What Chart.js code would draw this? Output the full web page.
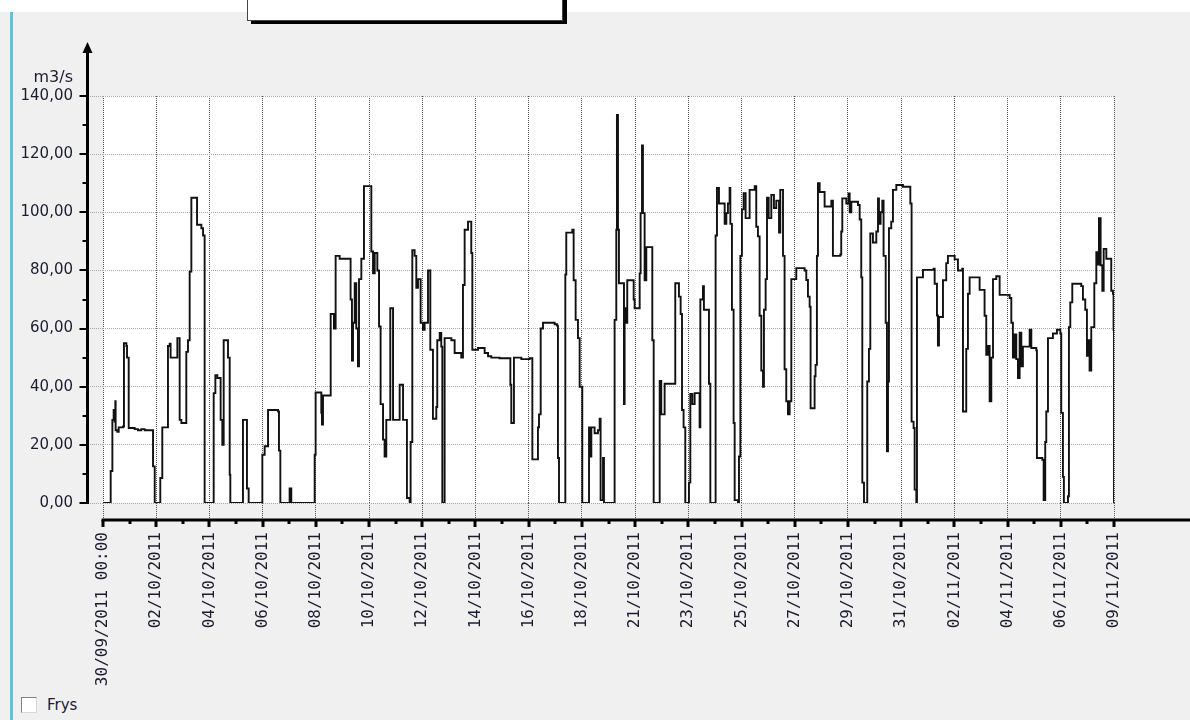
<!DOCTYPE html>
<html>
<head>
<meta charset="utf-8">
<script src="https://cdn.jsdelivr.net/npm/chart.js@4.4.1/dist/chart.umd.min.js"></script>
<style>
    html, body { margin: 0; padding: 0; }
    body { width: 1190px; height: 720px; background: #f0f0f0; position: relative; overflow: hidden; font-family: 'DejaVu Sans', sans-serif; }
    .top-band { position: absolute; left: 0; top: 0; width: 1190px; height: 12px; background: #fff; }
    .top-box { position: absolute; left: 247px; top: -20px; width: 314px; height: 39px; background: #fff; border: 1px solid #444; box-shadow: 4px 3px 0 #000; }
    .side-bar { position: absolute; left: 10px; top: 12px; width: 3px; height: 708px; background: #5cc6d6; }
    .freeze { position: absolute; left: 21px; top: 696px; height: 18px; display: flex; align-items: center; font-size: 15px; color: #1c1c30; }
    .freeze span.box { width: 16px; height: 16px; border: 1px solid #848484; border-right-color: #d8d8d8; border-bottom-color: #d8d8d8; background: #fff; margin-right: 10px; box-sizing: border-box; }
    #flowChart { position: absolute; left: 0; top: 0; }
</style>
</head>
<body>
<div class="top-band"></div>
<div class="top-box"></div>
<div class="side-bar"></div>
<div class="freeze"><span class="box"></span>Frys</div>
<canvas id="flowChart" width="1190" height="720"></canvas>

<script>
// Hours since 30/09/2011 00:00 when the flow changes, and the new flow (m3/s)
const hours = [
    0, 7.3, 8.9, 10.1, 11.1, 11.7, 12.0, 13.6, 14.9, 19.0, 19.9, 22.2, 22.8, 24.4, 30.1, 33.2, 36.4, 39.6, 47.5, 49.1,
    54.4, 56.3, 61.7, 63.3, 64.2, 70.6, 72.8, 74.4, 79.1, 80.7, 82.3, 83.9, 89.3, 93.4, 95.0, 96.5,
    105.1, 106.7, 108.6, 111.7, 113.3, 114.6, 118.7, 120.3, 120.9, 132.9, 136.7, 138.3,
    151.3, 153.5, 156.7, 166.2, 167.1, 168.4, 177.2, 178.8,
    201.0, 201.9, 207.3, 207.9, 208.9, 216.2, 219.3, 220.9, 224.7, 235.1, 236.4, 237.4, 239.0, 240.5, 242.1, 243.1, 245.3, 247.8,
    254.8, 256.4, 258.0, 260.5, 262.1, 263.6, 265.9, 267.4, 269.0, 272.8, 275.4, 281.7, 284.9, 288.6, 291.2,
    292.1, 293.7, 295.9, 297.5, 299.1, 301.6, 303.8, 305.4, 308.6, 310.8, 313.3, 316.5, 317.4, 319.7, 321.2, 322.2,
    324.4, 330.8, 333.9, 340.2, 341.8, 343.4, 346.6, 349.7, 350.7, 356.1, 362.4, 365.6, 368.7, 376.6, 386.8, 387.7,
    390.2, 397.2, 405.1, 407.7, 413.0, 414.0, 415.6, 417.8, 428.9, 431.1, 432.0, 433.0,
    439.0, 439.9, 445.6, 446.9, 448.8, 451.0, 452.6, 455.1, 461.5, 463.0, 463.7, 466.8, 470.0, 471.6, 472.5, 474.8, 475.7,
    485.8, 487.4, 488.0, 489.0, 489.9, 494.7, 495.3, 496.9, 497.8, 503.9, 504.8, 509.6, 510.5, 511.8, 512.7, 514.3, 515.9,
    521.6, 522.9, 528.6, 530.1, 533.3, 543.4, 546.9, 548.5, 549.8, 551.3, 552.9, 556.4, 557.7, 559.6, 561.8,
    566.5, 567.2, 569.7, 570.6, 575.4, 576.7, 581.7, 583.0, 584.9, 590.3, 591.9, 593.4, 595.0, 595.7, 597.2, 598.8, 599.8,
    602.9, 603.9, 605.2, 606.7, 608.3, 610.2, 614.0, 618.8, 620.3, 621.9, 623.5, 625.1, 626.7, 627.6, 629.2,
    630.5, 632.1, 634.6, 637.1, 639.3, 641.9, 643.1, 645.7, 647.2, 648.8, 650.4, 652.0, 653.6, 658.3,
    666.2, 667.8, 669.4, 671.0, 671.9, 675.7, 676.6, 677.9, 678.9, 680.5, 685.2, 691.6, 693.1,
    700.1, 701.0, 702.0, 705.8, 708.0, 709.0, 710.6, 716.9, 718.5, 720.0, 721.0, 722.6, 725.7, 727.3, 728.6,
    731.1, 734.3, 735.9, 736.8, 738.4, 740.0, 741.2, 743.2, 744.4, 745.4, 746.3, 748.5, 750.1, 753.3, 759.6,
    766.6, 767.8, 769.7, 770.7, 772.3, 772.9, 778.6, 788.7, 789.7, 791.9, 792.8, 793.8, 797.6,
    800.7, 802.3, 808.7, 811.8, 815.9, 816.6, 819.7, 821.3, 822.9, 832.4, 837.1, 838.7, 840.3, 841.9, 843.5, 845.1, 848.2,
    851.4, 860.9, 862.5, 864.0, 865.6, 867.2, 868.8, 870.4, 872.0, 873.5, 879.9, 881.5, 886.2, 886.8, 891.9, 893.2, 894.7,
    895.7, 897.3, 902.0, 905.8, 909.0, 909.9, 911.5, 912.4, 916.3, 917.2, 918.5, 920.4, 928.9,
    930.5, 932.7, 934.3, 935.6, 936.8, 938.4, 941.3, 943.2, 944.8, 945.7, 947.3, 948.9, 950.2, 952.7, 957.4, 959.0, 959.6, 960
];
const flow = [
    0, 11, 28.6, 32, 28, 35, 25, 24.5, 26, 26.3, 55, 54, 50, 25.8, 25.4, 25, 25.4, 25, 12.6, 0,
    8.6, 26, 54, 54.8, 50, 56.7, 28.6, 27.5, 52, 56, 79.6, 105, 95.7, 94.5, 92, 0,
    37.8, 44, 43, 28.6, 20, 56, 50, 9.7, 0, 28.6, 5, 0,
    16.6, 19.5, 32, 31.5, 18, 0, 5, 0,
    16.6, 38, 31, 27, 37, 65, 60, 85, 84, 70, 49, 62, 75.6, 60, 47, 77, 84, 109,
    86.5, 79, 86, 80, 60.7, 34, 21.8, 16, 28.6, 67, 28.6, 40.7, 28.6, 1.7, 0,
    21, 87, 85, 74, 77, 62, 59.6, 62, 80, 52.7, 29, 33, 56, 58.5, 53.8, 0,
    56.7, 56, 51.6, 50, 75, 94, 96.8, 86, 52.7, 53.3, 51.6, 50.5, 50, 49.8, 40.7, 27.5,
    50, 49.5, 49.8, 15, 26, 30.5, 60, 62, 61.5, 61, 15.5, 0,
    78.6, 93, 94, 76.6, 63, 56.7, 40, 0, 26, 16, 26, 24, 25, 29, 1, 15.5, 0,
    63, 94, 133.5, 94, 75.6, 34, 67, 62, 76.6, 70, 67, 79, 99.7, 123, 99.7, 76.6, 88,
    56, 0, 42, 30.5, 41, 75.6, 71, 65, 32, 26, 0, 7, 37.5, 34, 37.8,
    26, 70, 74.6, 66.5, 41, 0, 92, 108.4, 103, 96, 99.7, 103, 108.4, 96, 66.5, 27.5, 1,
    0, 16, 85, 101, 106.6, 98, 107.7, 109, 95, 91.7, 64.4, 45.6, 40, 66.5, 77,
    105, 98, 106, 101.5, 104, 93, 107.7, 85, 46, 35, 30.5, 35, 77, 80.8,
    80, 76.7, 71, 67.5, 32.6, 43.6, 47.5, 85, 110, 107, 102, 104, 85,
    85.5, 93.4, 104.8, 103, 106.5, 100, 103.6, 102.5, 97.5, 77.6, 7, 0, 41.8, 53, 92.7,
    89.6, 93.4, 104.8, 96, 100, 104, 85, 62, 17.8, 41.8, 94.5, 96.8, 107.7, 109.4, 108.8,
    103, 28, 25.8, 4.6, 0, 77.6, 80.2, 80.6, 75.4, 64.5, 54.2, 64, 76.6,
    82.5, 85, 83.8, 80, 80.6, 31.5, 53, 72, 77.6, 73.3, 64.4, 51, 54, 35, 50, 77, 78,
    71.6, 70.5, 62, 50, 58, 49.5, 43, 58.6, 47, 53.8, 59.6, 53.3, 52.5, 15.5, 14.9, 1, 21,
    31.5, 56.7, 58.3, 59.6, 58.3, 31, 9, 0, 2.3, 60.5, 69, 75.4, 74.6,
    70, 66.5, 50.6, 56, 45.6, 60.5, 75.6, 86.3, 82, 98, 81.8, 73, 87.4, 84, 73, 72, 59.6, 0
];

// X axis labels, evenly spaced over the 40 days shown
const tickLabels = [
    '30/09/2011 00:00', '02/10/2011', '04/10/2011', '06/10/2011', '08/10/2011',
    '10/10/2011', '12/10/2011', '14/10/2011', '16/10/2011', '18/10/2011',
    '21/10/2011', '23/10/2011', '25/10/2011', '27/10/2011', '29/10/2011',
    '31/10/2011', '02/11/2011', '04/11/2011', '06/11/2011', '09/11/2011'
];
const totalHours = 960;
const yMax = 140;
const yStep = 20;
const unitLabel = 'm3/s';

const textColor = '#1c1c30';

// White plot background, heavy black axes offset from the plot, y arrow and unit text
const axesPlugin = {
    id: 'offsetAxes',
    beforeDraw(chart) {
        const { ctx, chartArea: a } = chart;
        ctx.save();
        ctx.fillStyle = '#fff';
        ctx.fillRect(a.left, a.top, a.right - a.left, a.bottom - a.top);
        ctx.restore();
    },
    afterDraw(chart) {
        const { ctx, chartArea: a, scales } = chart;
        const xs = scales.x, ys = scales.y;
        const axisX = a.left - 15.5;
        const axisY = a.bottom + 17;
        ctx.save();
        ctx.strokeStyle = '#000';
        ctx.fillStyle = '#000';

        // y axis with arrow
        ctx.lineWidth = 3;
        ctx.beginPath();
        ctx.moveTo(axisX, a.bottom + 1);
        ctx.lineTo(axisX, 50);
        ctx.stroke();
        ctx.beginPath();
        ctx.moveTo(axisX, 42);
        ctx.lineTo(axisX - 5, 53);
        ctx.lineTo(axisX + 5, 53);
        ctx.closePath();
        ctx.fill();

        ctx.lineWidth = 2;
        ys.ticks.forEach((t, i) => {
            const py = Math.round(ys.getPixelForValue(t.value));
            ctx.beginPath();
            ctx.moveTo(axisX - 8, py);
            ctx.lineTo(axisX, py);
            ctx.stroke();
            if (i > 0) {
                const my = Math.round(ys.getPixelForValue(t.value - yStep / 2));
                ctx.beginPath();
                ctx.moveTo(axisX - 5, my);
                ctx.lineTo(axisX, my);
                ctx.stroke();
            }
        });

        // x axis runs to the right edge
        ctx.lineWidth = 3;
        ctx.beginPath();
        ctx.moveTo(a.left - 1.5, axisY);
        ctx.lineTo(chart.width, axisY);
        ctx.stroke();
        xs.ticks.forEach((t, i) => {
            const px = Math.round(xs.getPixelForValue(t.value));
            ctx.beginPath();
            ctx.moveTo(px, axisY);
            ctx.lineTo(px, axisY + 7);
            ctx.stroke();
            if (i > 0) {
                const prev = xs.ticks[i - 1].value;
                const mx = Math.round(xs.getPixelForValue((prev + t.value) / 2));
                ctx.beginPath();
                ctx.moveTo(mx, axisY);
                ctx.lineTo(mx, axisY + 4);
                ctx.stroke();
            }
        });

        // unit above the y labels
        ctx.fillStyle = textColor;
        ctx.font = '16px "DejaVu Sans"';
        ctx.textAlign = 'right';
        ctx.textBaseline = 'alphabetic';
        ctx.fillText(unitLabel, a.left - 30, 82);
        ctx.restore();
    }
};

function buildChart() {
    const points = hours.map((h, i) => ({ x: h, y: flow[i] }));
    const ctx = document.getElementById('flowChart').getContext('2d');

    new Chart(ctx, {
        type: 'line',
        data: {
            datasets: [{
                data: points,
                borderColor: '#111',
                borderWidth: 1.9,
                pointRadius: 0,
                stepped: true,
                fill: false
            }]
        },
        options: {
            responsive: false,
            animation: false,
            layout: { padding: { top: 96, right: 76, left: 0, bottom: 0 } },
            plugins: {
                legend: { display: false },
                tooltip: { enabled: false }
            },
            scales: {
                x: {
                    type: 'linear',
                    min: 0,
                    max: totalHours,
                    afterBuildTicks: scale => {
                        scale.ticks = tickLabels.map((l, i) => ({ value: i * totalHours / (tickLabels.length - 1) }));
                    },
                    afterFit: scale => { scale.height = 217; },
                    ticks: {
                        autoSkip: false,
                        maxRotation: 90,
                        minRotation: 90,
                        padding: 12,
                        color: textColor,
                        font: { family: 'DejaVu Sans Mono', size: 16 },
                        callback: (v, i) => tickLabels[i]
                    },
                    grid: {
                        color: '#555',
                        tickColor: '#555',
                        tickLength: 17,
                        tickBorderDash: [1, 1]
                    },
                    border: { display: false, dash: [1, 1] }
                },
                y: {
                    min: 0,
                    max: yMax,
                    afterFit: scale => { scale.width = 103; },
                    ticks: {
                        stepSize: yStep,
                        padding: 15,
                        color: textColor,
                        font: { family: 'DejaVu Sans', size: 15 },
                        callback: v => v.toFixed(2).replace('.', ',')
                    },
                    grid: {
                        color: '#a8a8a8',
                        tickColor: '#a8a8a8',
                        tickLength: 15,
                        tickBorderDash: [1, 1]
                    },
                    border: { display: false, dash: [1, 1] }
                }
            }
        },
        plugins: [axesPlugin]
    });
}

document.addEventListener('DOMContentLoaded', buildChart);
</script>
</body>
</html>
